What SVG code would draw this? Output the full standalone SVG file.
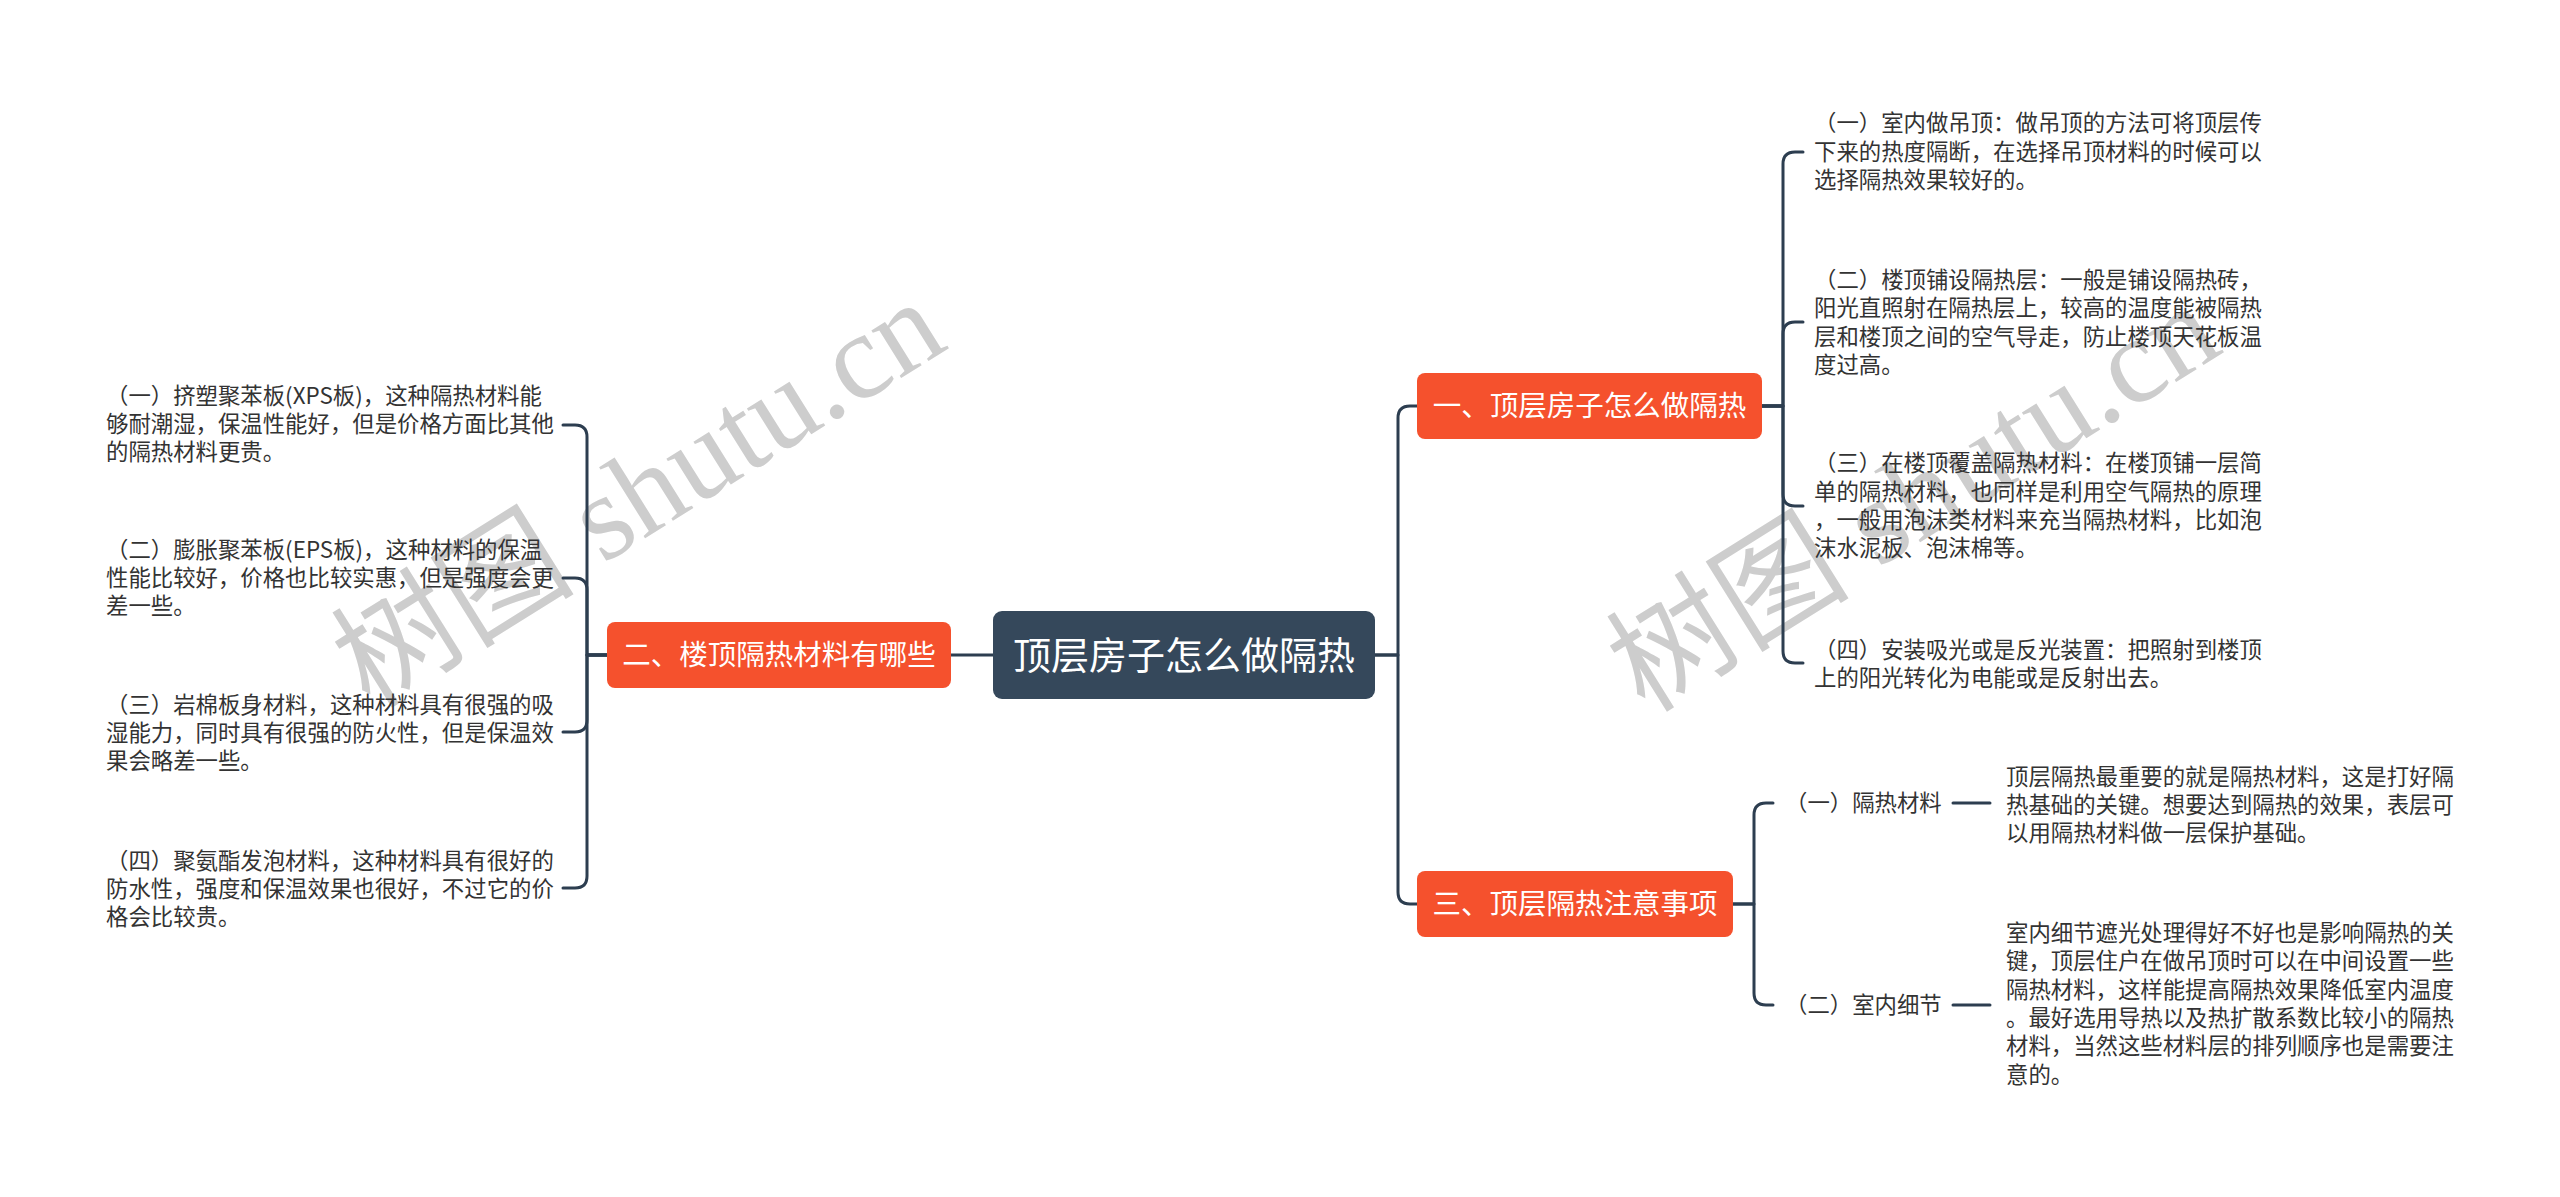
<svg xmlns="http://www.w3.org/2000/svg" width="2560" height="1197" viewBox="0 0 2560 1197">
<style>
.bg{fill:#ffffff}
.wm{font-family:"Liberation Serif","Noto Sans CJK SC",serif;font-size:122px;fill:#cdcdcd}
.conn path{fill:none;stroke:#2d3e50;stroke-width:3;stroke-linecap:round;stroke-linejoin:round}
.root rect{fill:#35485b}
.root text{font-family:"Noto Sans CJK SC","Noto Sans",sans-serif;font-size:38px;fill:#ffffff;text-anchor:middle}
.main rect{fill:#f5512d}
.main text{font-family:"Noto Sans CJK SC","Noto Sans",sans-serif;font-size:28.5px;fill:#ffffff;text-anchor:middle}
.leaf text{font-family:"Noto Sans CJK SC","Noto Sans",sans-serif;font-size:22.4px;fill:#333333}
</style>
<rect class="bg" x="0" y="0" width="2560" height="1197"/>
<g id="watermarks">
<text class="wm" transform="translate(370,710) rotate(-32)">树图 shutu.cn</text>
<text class="wm" transform="translate(1645,714) rotate(-32)">树图 shutu.cn</text>
</g>
<g id="connectors" class="conn">
<path d="M993,655 H951"/>
<path d="M607,655 H587 V437 Q587,425 575,425 H563"/>
<path d="M607,655 H587 V590 Q587,578 575,578 H563"/>
<path d="M607,655 H587 V720 Q587,732 575,732 H563"/>
<path d="M607,655 H587 V876 Q587,888 575,888 H563"/>
<path d="M1375,655 H1398 V418 Q1398,406 1410,406 H1417"/>
<path d="M1375,655 H1398 V892 Q1398,904 1410,904 H1417"/>
<path d="M1762,406 H1783 V164 Q1783,152 1795,152 H1803"/>
<path d="M1762,406 H1783 V334 Q1783,322 1795,322 H1803"/>
<path d="M1762,406 H1783 V494 Q1783,506 1795,506 H1803"/>
<path d="M1762,406 H1783 V651 Q1783,663 1795,663 H1803"/>
<path d="M1733,904 H1754 V815 Q1754,803 1766,803 H1773"/>
<path d="M1733,904 H1754 V993 Q1754,1005 1766,1005 H1773"/>
<path d="M1953,803 H1990"/>
<path d="M1953,1005 H1990"/>
</g>
<g id="root" class="root">
<rect x="993" y="611" width="382" height="88" rx="9"/>
<text x="1184" y="669">顶层房子怎么做隔热</text>
</g>
<g id="b2" class="main">
<rect x="607" y="622" width="344" height="66" rx="8"/>
<text x="779" y="665">二、楼顶隔热材料有哪些</text>
</g>
<g id="b1" class="main">
<rect x="1417" y="373" width="345" height="66" rx="8"/>
<text x="1589.5" y="416">一、顶层房子怎么做隔热</text>
</g>
<g id="b3" class="main">
<rect x="1417" y="871" width="316" height="66" rx="8"/>
<text x="1575" y="914">三、顶层隔热注意事项</text>
</g>
<g id="l2a" class="leaf">
<text x="106" y="404">（一）挤塑聚苯板(XPS板)，这种隔热材料能</text>
<text x="106" y="432">够耐潮湿，保温性能好，但是价格方面比其他</text>
<text x="106" y="460">的隔热材料更贵。</text>
</g>
<g id="l2b" class="leaf">
<text x="106" y="558">（二）膨胀聚苯板(EPS板)，这种材料的保温</text>
<text x="106" y="586">性能比较好，价格也比较实惠，但是强度会更</text>
<text x="106" y="614">差一些。</text>
</g>
<g id="l2c" class="leaf">
<text x="106" y="713">（三）岩棉板身材料，这种材料具有很强的吸</text>
<text x="106" y="741">湿能力，同时具有很强的防火性，但是保温效</text>
<text x="106" y="769">果会略差一些。</text>
</g>
<g id="l2d" class="leaf">
<text x="106" y="869">（四）聚氨酯发泡材料，这种材料具有很好的</text>
<text x="106" y="897">防水性，强度和保温效果也很好，不过它的价</text>
<text x="106" y="925">格会比较贵。</text>
</g>
<g id="l1a" class="leaf">
<text x="1814" y="131">（一）室内做吊顶：做吊顶的方法可将顶层传</text>
<text x="1814" y="160">下来的热度隔断，在选择吊顶材料的时候可以</text>
<text x="1814" y="188">选择隔热效果较好的。</text>
</g>
<g id="l1b" class="leaf">
<text x="1814" y="288">（二）楼顶铺设隔热层：一般是铺设隔热砖，</text>
<text x="1814" y="316">阳光直照射在隔热层上，较高的温度能被隔热</text>
<text x="1814" y="345">层和楼顶之间的空气导走，防止楼顶天花板温</text>
<text x="1814" y="373">度过高。</text>
</g>
<g id="l1c" class="leaf">
<text x="1814" y="471">（三）在楼顶覆盖隔热材料：在楼顶铺一层简</text>
<text x="1814" y="500">单的隔热材料，也同样是利用空气隔热的原理</text>
<text x="1814" y="528">，一般用泡沫类材料来充当隔热材料，比如泡</text>
<text x="1814" y="556">沫水泥板、泡沫棉等。</text>
</g>
<g id="l1d" class="leaf">
<text x="1814" y="658">（四）安装吸光或是反光装置：把照射到楼顶</text>
<text x="1814" y="686">上的阳光转化为电能或是反射出去。</text>
</g>
<g id="l3a" class="leaf">
<text x="1785" y="811">（一）隔热材料</text>
</g>
<g id="l3b" class="leaf">
<text x="1785" y="1013">（二）室内细节</text>
</g>
<g id="l3a1" class="leaf">
<text x="2006" y="785">顶层隔热最重要的就是隔热材料，这是打好隔</text>
<text x="2006" y="813">热基础的关键。想要达到隔热的效果，表层可</text>
<text x="2006" y="841">以用隔热材料做一层保护基础。</text>
</g>
<g id="l3b1" class="leaf">
<text x="2006" y="941">室内细节遮光处理得好不好也是影响隔热的关</text>
<text x="2006" y="969">键，顶层住户在做吊顶时可以在中间设置一些</text>
<text x="2006" y="998">隔热材料，这样能提高隔热效果降低室内温度</text>
<text x="2006" y="1026">。最好选用导热以及热扩散系数比较小的隔热</text>
<text x="2006" y="1054">材料，当然这些材料层的排列顺序也是需要注</text>
<text x="2006" y="1083">意的。</text>
</g>
</svg>
